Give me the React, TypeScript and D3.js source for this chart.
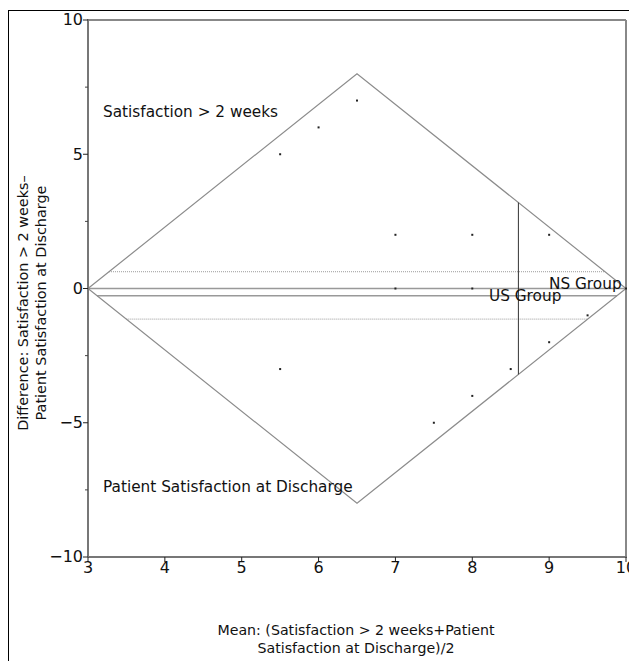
import React from "react";
import * as d3 from "d3";

const meanVals = [5.5, 6, 6.5, 7, 8, 9, 7, 8, 5.5, 7.5, 8, 8.5, 9, 9.5, 10];
const diffVals = [5, 6, 7, 2, 2, 2, 0, 0, -3, -5, -4, -3, -2, -1, 0];
const xTicks = [3, 4, 5, 6, 7, 8, 9, 10];
const yTicks = [-10, -5, 0, 5, 10];
const yMinorTicks = [-7.5, -2.5, 2.5, 7.5];
const diamondMean = [3, 6.5, 10, 6.5];
const diamondDiff = [0, 8, 0, -8];
const meanDiff = -0.27;
const upperLimit = 0.625;
const lowerLimit = -1.14;
const groupMean = 8.6;

const FONT = "DejaVu Sans";

export default function App() {
  const x = d3.scaleLinear().domain([3, 10]).range([88, 626]);
  const y = d3.scaleLinear().domain([-10, 10]).range([557, 20]);
  const halfSpan = 3.5 / 8;
  const xl = (d: number) => x(3 + Math.abs(d) * halfSpan);
  const xr = (d: number) => x(10 - Math.abs(d) * halfSpan);
  const diamondPath = d3.line<number>()
    .x((_, i) => x(diamondMean[i]))
    .y((_, i) => y(diamondDiff[i]))
    .curve(d3.curveLinearClosed)(diamondMean);
  const vSpan = 8 * (10 - groupMean) / 3.5;

  return (
    <svg width={629} height={661} style={{ position: "absolute", left: 0, top: 0, background: "#fff" }} fontFamily={FONT}>
      <rect x={8.5} y={10.5} width={700} height={700} fill="none" stroke="#000" strokeWidth={1} />
      {/* frame */}
      <line x1={x(3)} x2={x(10)} y1={y(10)} y2={y(10)} stroke="#888" strokeWidth={2} />
      <line x1={x(10)} x2={x(10)} y1={y(10)} y2={y(-10)} stroke="#888" strokeWidth={2} />
      {/* dotted limits */}
      {[upperLimit, lowerLimit].map((d, i) => (
        <line key={i} x1={xl(d)} x2={xr(d)} y1={y(d)} y2={y(d)} stroke="#999" strokeWidth={1} strokeDasharray="1,1" />
      ))}
      {/* zero line */}
      <line x1={x(3)} x2={x(10)} y1={y(0)} y2={y(0)} stroke="#999" strokeWidth={1.5} />
      {/* mean diff line */}
      <line x1={xl(meanDiff)} x2={xr(meanDiff)} y1={y(meanDiff)} y2={y(meanDiff)} stroke="#999" strokeWidth={1.5} />
      {/* diamond */}
      <path d={diamondPath || ""} fill="none" stroke="#8c8c8c" strokeWidth={1.2} />
      {/* vertical group mean */}
      <line x1={x(groupMean)} x2={x(groupMean)} y1={y(vSpan)} y2={y(-vSpan)} stroke="#333" strokeWidth={1} />
      {/* points */}
      {meanVals.map((m, i) => (
        <rect key={i} x={x(m) - 1} y={y(diffVals[i]) - 1} width={2} height={2} fill="#222" />
      ))}
      {/* axes */}
      <line x1={x(3)} x2={x(3)} y1={y(10) - 1} y2={y(-10)} stroke="#777" strokeWidth={2} />
      <line x1={x(3)} x2={x(10) + 1} y1={y(-10)} y2={y(-10)} stroke="#777" strokeWidth={2} />
      {yTicks.map(t => (
        <g key={t}>
          <line x1={x(3) - 5} x2={x(3)} y1={y(t)} y2={y(t)} stroke="#222" strokeWidth={1} />
          <text x={x(3) - 5} y={y(t)} dy="0.34em" textAnchor="end" fontSize={16} fill="#111">{t < 0 ? "\u2212" + Math.abs(t) : t}</text>
        </g>
      ))}
      {yMinorTicks.map(t => (
        <line key={t} x1={x(3) - 3} x2={x(3)} y1={y(t)} y2={y(t)} stroke="#444" strokeWidth={1} />
      ))}
      {xTicks.map(t => (
        <g key={t}>
          <line x1={x(t)} x2={x(t)} y1={y(-10)} y2={y(-10) + 5} stroke="#222" strokeWidth={1} />
          <text x={x(t)} y={573} textAnchor="middle" fontSize={16} fill="#111">{t}</text>
        </g>
      ))}
      {/* labels */}
      <text x={103} y={117} fontSize={15.3} fill="#111">Satisfaction &gt; 2 weeks</text>
      <text x={103} y={492} fontSize={15.3} fill="#111">Patient Satisfaction at Discharge</text>
      <text x={549} y={289} fontSize={15.3} fill="#111">NS Group</text>
      <text x={489} y={301} fontSize={15.3} fill="#111">US Group</text>
      <text x={356} y={635} textAnchor="middle" fontSize={14.2} fill="#111">Mean: (Satisfaction &gt; 2 weeks+Patient</text>
      <text x={356} y={653} textAnchor="middle" fontSize={14.2} fill="#111">Satisfaction at Discharge)/2</text>
      <g transform="translate(0,303) rotate(-90)">
        <text x={0} y={28} textAnchor="middle" fontSize={14.4} fill="#111">Difference: Satisfaction &gt; 2 weeks–</text>
        <text x={0} y={46} textAnchor="middle" fontSize={14.4} fill="#111">Patient Satisfaction at Discharge</text>
      </g>
    </svg>
  );
}
